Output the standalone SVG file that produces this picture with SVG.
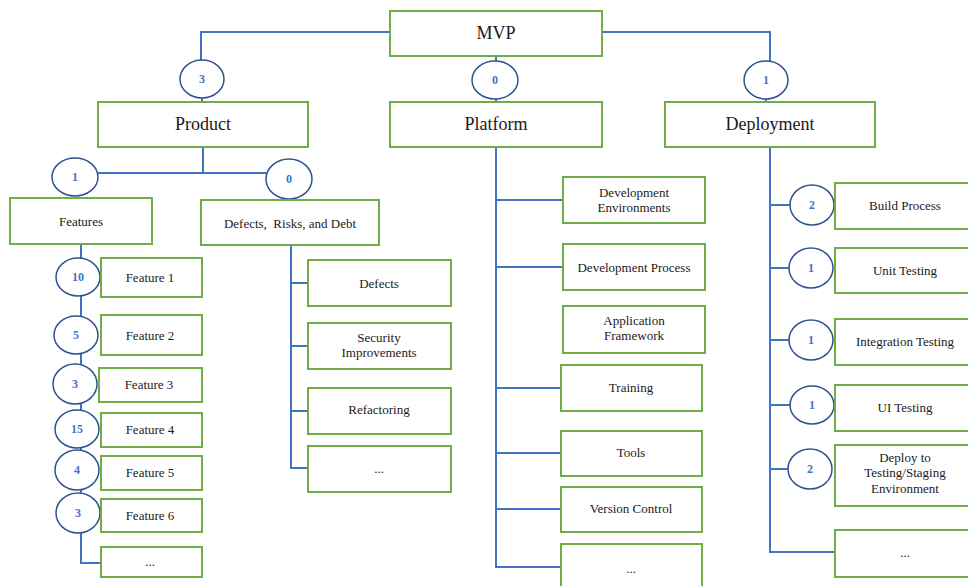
<svg xmlns="http://www.w3.org/2000/svg" width="968" height="586" viewBox="0 0 968 586">
<style>
.box{fill:#fff;stroke:#70AD47;stroke-width:2}
.c{fill:#fff;stroke:#2F528F;stroke-width:1.5}
.ln{fill:none;stroke:#4472C4;stroke-width:2}
text{font-family:"Liberation Serif","Times New Roman",serif;fill:#1a1a1a;text-anchor:middle}
.big{font-size:18px}
.sm{font-size:13px}
.n{font-size:12px;font-weight:bold;fill:#4472C4}
</style>
<rect width="968" height="586" fill="#fff"/>
<g id="connectors">
<path class="ln" d="M390 32H201V60"/>
<path class="ln" d="M602 32H770V61"/>
<path class="ln" d="M496 56V61"/>
<path class="ln" d="M202 98V102M496 99V102M766 99V102"/>
<path class="ln" d="M203 147V173M98 173H267"/>
<path class="ln" d="M81 244V563H101"/>
<path class="ln" d="M291 245V468H308M291 283H308M291 346H308M291 411H308"/>
<path class="ln" d="M496 147V567H561M496 200H563M496 267H563M496 388H561M496 453H561M496 509H561"/>
<path class="ln" d="M770 147V552H835M770 205H790M770 268H790M770 340H790M770 405H790M770 469H790"/>
</g>
<g id="mvp"><rect class="box" x="390" y="11" width="212" height="45"/><text class="big" x="496" y="39">MVP</text></g>
<g id="c-product"><ellipse class="c" cx="202" cy="79" rx="22" ry="19"/><text class="n" x="202" y="83">3</text></g>
<g id="c-platform"><ellipse class="c" cx="495" cy="80" rx="23" ry="19"/><text class="n" x="495" y="84">0</text></g>
<g id="c-deployment"><ellipse class="c" cx="766" cy="80" rx="22" ry="19"/><text class="n" x="766" y="84">1</text></g>
<g id="product"><rect class="box" x="98" y="102" width="210" height="45"/><text class="big" x="203" y="130">Product</text></g>
<g id="platform"><rect class="box" x="390" y="102" width="212" height="45"/><text class="big" x="496" y="130">Platform</text></g>
<g id="deployment"><rect class="box" x="665" y="102" width="210" height="45"/><text class="big" x="770" y="130">Deployment</text></g>
<g id="c-features"><ellipse class="c" cx="75" cy="177" rx="23" ry="19"/><text class="n" x="75" y="181">1</text></g>
<g id="c-defects"><ellipse class="c" cx="289" cy="179" rx="23" ry="20"/><text class="n" x="289" y="183">0</text></g>
<g id="features"><rect class="box" x="10" y="198" width="142" height="46"/><text class="sm" x="81" y="226">Features</text></g>
<g id="drd"><rect class="box" x="201" y="200" width="178" height="45"/><text class="sm" x="290" y="228" xml:space="preserve">Defects,  Risks, and Debt</text></g>
<g id="f1"><ellipse class="c" cx="78" cy="277" rx="22" ry="19"/><text class="n" x="78" y="281">10</text><rect class="box" x="101" y="258" width="101" height="39"/><text class="sm" x="150" y="282">Feature 1</text></g>
<g id="f2"><ellipse class="c" cx="76" cy="335" rx="22" ry="19"/><text class="n" x="76" y="339">5</text><rect class="box" x="101" y="315" width="101" height="40"/><text class="sm" x="150" y="340">Feature 2</text></g>
<g id="f3"><ellipse class="c" cx="75" cy="384" rx="22" ry="20"/><text class="n" x="75" y="388">3</text><rect class="box" x="99" y="368" width="103" height="34"/><text class="sm" x="149" y="389">Feature 3</text></g>
<g id="f4"><ellipse class="c" cx="77" cy="429" rx="22" ry="19"/><text class="n" x="77" y="433">15</text><rect class="box" x="101" y="413" width="101" height="34"/><text class="sm" x="150" y="434">Feature 4</text></g>
<g id="f5"><ellipse class="c" cx="77" cy="470" rx="22" ry="20"/><text class="n" x="77" y="474">4</text><rect class="box" x="101" y="456" width="101" height="34"/><text class="sm" x="150" y="477">Feature 5</text></g>
<g id="f6"><ellipse class="c" cx="78" cy="513" rx="22" ry="20"/><text class="n" x="78" y="517">3</text><rect class="box" x="101" y="499" width="101" height="33"/><text class="sm" x="150" y="520">Feature 6</text></g>
<g id="fmore"><rect class="box" x="101" y="547" width="101" height="30"/><text class="sm" x="150" y="566">...</text></g>
<g id="defects"><rect class="box" x="308" y="260" width="143" height="46"/><text class="sm" x="379" y="288">Defects</text></g>
<g id="security"><rect class="box" x="308" y="323" width="143" height="46"/><text class="sm" x="379" y="342">Security</text><text class="sm" x="379" y="357">Improvements</text></g>
<g id="refactoring"><rect class="box" x="308" y="388" width="143" height="46"/><text class="sm" x="379" y="414">Refactoring</text></g>
<g id="dmore"><rect class="box" x="308" y="446" width="143" height="46"/><text class="sm" x="379" y="473">...</text></g>
<g id="devenv"><rect class="box" x="563" y="177" width="142" height="46"/><text class="sm" x="634" y="197">Development</text><text class="sm" x="634" y="212">Environments</text></g>
<g id="devproc"><rect class="box" x="563" y="244" width="142" height="46"/><text class="sm" x="634" y="272">Development Process</text></g>
<g id="appfw"><rect class="box" x="563" y="306" width="142" height="47"/><text class="sm" x="634" y="325">Application</text><text class="sm" x="634" y="340">Framework</text></g>
<g id="training"><rect class="box" x="561" y="365" width="141" height="46"/><text class="sm" x="631" y="392">Training</text></g>
<g id="tools"><rect class="box" x="561" y="431" width="141" height="45"/><text class="sm" x="631" y="457">Tools</text></g>
<g id="vc"><rect class="box" x="561" y="487" width="141" height="45"/><text class="sm" x="631" y="513">Version Control</text></g>
<g id="pmore"><rect class="box" x="561" y="544" width="141" height="50"/><text class="sm" x="631" y="573">...</text></g>
<g id="build"><ellipse class="c" cx="812" cy="205" rx="22" ry="20"/><text class="n" x="812" y="209">2</text><rect class="box" x="835" y="183" width="140" height="46"/><text class="sm" x="905" y="210">Build Process</text></g>
<g id="unit"><ellipse class="c" cx="811" cy="268" rx="22" ry="20"/><text class="n" x="811" y="272">1</text><rect class="box" x="835" y="248" width="140" height="45"/><text class="sm" x="905" y="275">Unit Testing</text></g>
<g id="integ"><ellipse class="c" cx="811" cy="340" rx="22" ry="20"/><text class="n" x="811" y="344">1</text><rect class="box" x="835" y="319" width="140" height="46"/><text class="sm" x="905" y="346">Integration Testing</text></g>
<g id="ui"><ellipse class="c" cx="812" cy="405" rx="22" ry="19"/><text class="n" x="812" y="409">1</text><rect class="box" x="835" y="385" width="140" height="46"/><text class="sm" x="905" y="412">UI Testing</text></g>
<g id="deploy"><ellipse class="c" cx="810" cy="469" rx="22" ry="20"/><text class="n" x="810" y="473">2</text><rect class="box" x="835" y="445" width="140" height="61"/><text class="sm" x="905" y="462">Deploy to</text><text class="sm" x="905" y="477">Testing/Staging</text><text class="sm" x="905" y="493">Environment</text></g>
<g id="depmore"><rect class="box" x="835" y="530" width="140" height="47"/><text class="sm" x="905" y="557">...</text></g>
</svg>
